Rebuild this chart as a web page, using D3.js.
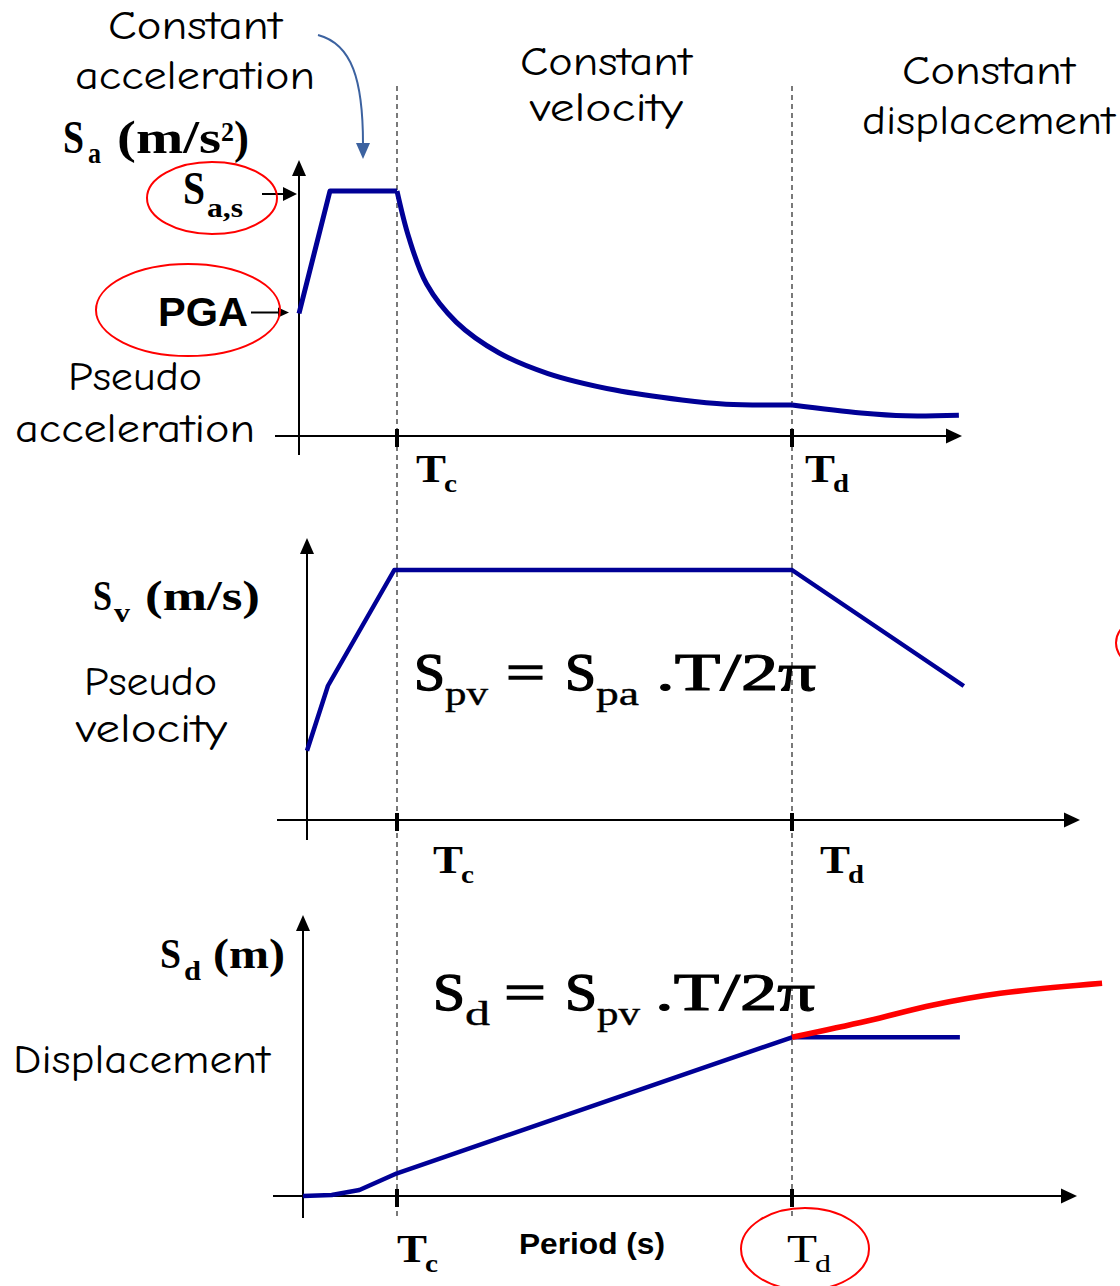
<!DOCTYPE html>
<html><head><meta charset="utf-8">
<script src="https://cdn.jsdelivr.net/npm/d3@7"></script>
<style>html,body{margin:0;padding:0;background:#fff;} svg{display:block;}</style>
</head><body>
<svg id="chart" width="1120" height="1286"></svg>
<script>
// Period in multiples of Tc (Tc = 1, Td = 5)
const cornerNames = ["c", "d"];
const cornerPeriods = [1, 5];

// Pseudo acceleration Sa, in units of PGA
const pga = 1.0;
const saPlateau = 2.0;
const saRampT = [0, 0.316, 1.0];
const saRampV = [1.0, 2.0, 2.0];
const saVelT = [1.0, 1.12, 1.30, 1.60, 2.031, 2.529, 3.208, 3.886, 4.332, 5.0];
const saVelV = [2.0, 1.62, 1.24, 0.93, 0.68, 0.51, 0.375, 0.294, 0.26, 0.253];
const saDispT = [5.0, 5.70, 6.15, 6.69];
const saDispV = [0.253, 0.188, 0.165, 0.17];

// Pseudo velocity Sv, in units of the plateau
const svT = [0, 0.233, 0.97, 5.0, 6.74];
const svV = [0.277, 0.537, 1.0, 1.0, 0.536];

// Spectral displacement Sd
const sdT = [0, 0.305, 0.60, 1.0, 5.0, 6.70];
const sdV = [0, 0.01, 0.06, 0.227, 1.587, 1.587];
const sdOpenT = [5.0, 5.76, 6.43, 7.11, 8.14];
const sdOpenV = [1.587, 1.75, 1.91, 2.027, 2.127];

const zip = (a, b) => a.map((v, i) => [v, b[i]]);

const svg = d3.select("#chart");
const BLUE = "#000096", RED = "#ff0000";
const COMIC = "'Comic Sans MS','Comic Neue','Open Sans',sans-serif";
const SERIF = "'Times New Roman','Liberation Serif',serif";
const SANS = "Arial,'Liberation Sans',sans-serif";

// Three stacked panels sharing Tc / Td positions
const panels = {
  sa: {x0: 299, axisY: 436, unit: 122.5, yTop: 160, yBot: 455, xLeft: 275, xTip: 962},
  sv: {x0: 307, axisY: 820, unit: 250,   yTop: 538, yBot: 840, xLeft: 277, xTip: 1080},
  sd: {x0: 303, axisY: 1196, unit: 100,  yTop: 915, yBot: 1218, xLeft: 273, xTip: 1077}
};
const TC_X = 397, TD_X = 792;
Object.values(panels).forEach(p => {
  p.x = d3.scaleLinear().domain([0, cornerPeriods[0], cornerPeriods[1]]).range([p.x0, TC_X, TD_X]);
  p.y = d3.scaleLinear().domain([0, 1]).range([p.axisY, p.axisY - p.unit]);
});

// dashed guides at Tc and Td through all panels
const gGuide = svg.append("g");
cornerPeriods.forEach(t => {
  const xx = panels.sa.x(t);
  gGuide.append("line").attr("x1", xx).attr("x2", xx).attr("y1", 86).attr("y2", 1217)
    .attr("stroke", "#222").attr("stroke-width", 1.2).attr("stroke-dasharray", "5,4");
});

// axes with arrowheads and corner ticks
function drawAxes(p) {
  const g = svg.append("g");
  g.append("line").attr("x1", p.xLeft).attr("x2", p.xTip - 10).attr("y1", p.axisY).attr("y2", p.axisY)
    .attr("stroke", "#000").attr("stroke-width", 2);
  g.append("path").attr("d", `M${p.xTip},${p.axisY} L${p.xTip - 16},${p.axisY - 7.5} L${p.xTip - 16},${p.axisY + 7.5} Z`).attr("fill", "#000");
  g.append("line").attr("x1", p.x0).attr("x2", p.x0).attr("y1", p.yBot).attr("y2", p.yTop + 10)
    .attr("stroke", "#000").attr("stroke-width", 2);
  g.append("path").attr("d", `M${p.x0},${p.yTop} L${p.x0 - 7},${p.yTop + 16} L${p.x0 + 7},${p.yTop + 16} Z`).attr("fill", "#000");
  cornerPeriods.forEach(t => {
    g.append("rect").attr("x", p.x(t) - 2).attr("y", p.axisY - 7).attr("width", 4).attr("height", 18).attr("fill", "#000");
  });
}
Object.values(panels).forEach(drawAxes);

function drawLine(p, pts, color, width, curve) {
  const line = d3.line().x(d => p.x(d[0])).y(d => p.y(d[1])).curve(curve || d3.curveLinear);
  svg.append("path").attr("d", line(pts)).attr("fill", "none")
    .attr("stroke", color).attr("stroke-width", width).attr("stroke-linejoin", "round");
}

// spectra
const smooth = d3.curveCatmullRom.alpha(0.5);
drawLine(panels.sa, zip(saRampT, saRampV), BLUE, 5);
drawLine(panels.sa, zip(saVelT, saVelV), BLUE, 5, smooth);
drawLine(panels.sa, zip(saDispT, saDispV), BLUE, 5, smooth);
drawLine(panels.sv, zip(svT, svV), BLUE, 4.5);
drawLine(panels.sd, zip(sdT, sdV), BLUE, 4.5);
drawLine(panels.sd, zip(sdOpenT, sdOpenV), RED, 5.5, smooth);

// text helper
function txt(s, x, y, size, opts = {}) {
  const t = svg.append("text").attr("x", x).attr("y", y).text(s)
    .attr("font-family", opts.family || SERIF).attr("font-size", size)
    .attr("font-weight", opts.weight || "normal").attr("fill", opts.fill || "#000");
  if (opts.len) t.attr("textLength", opts.len).attr("lengthAdjust", "spacingAndGlyphs");
  if (opts.stroke) t.attr("stroke", "#000").attr("stroke-width", opts.stroke);
  return t;
}

// region titles
txt("Constant", 108, 39, 40, {family: COMIC, len: 174});
txt("acceleration", 75, 89, 40, {family: COMIC, len: 240});
txt("Constant", 520, 75, 40, {family: COMIC, len: 172});
txt("velocity", 530, 121, 40, {family: COMIC, len: 153});
txt("Constant", 902, 84, 40, {family: COMIC, len: 173});
txt("displacement", 862, 134, 40, {family: COMIC, len: 253});

// arrow into plateau
svg.append("path").attr("d", "M318,35 C352,44 363,80 363,144").attr("fill", "none")
  .attr("stroke", "#3c62a0").attr("stroke-width", 2);
svg.append("path").attr("d", "M356,143 L370,143 L363,159 Z").attr("fill", "#3c62a0");

// Sa panel labels
txt("S", 63, 153, 46, {weight: "bold", len: 21});
txt("a", 88, 163, 30, {weight: "bold", len: 13});
txt("(m/s", 117, 153, 46, {weight: "bold", len: 104});
txt("2", 221, 141, 28, {weight: "bold", len: 13});
txt(")", 234, 153, 46, {weight: "bold", len: 15});

const pa = panels.sa;
const ySas = pa.y(saPlateau), yPga = pa.y(pga);
txt("S", 183, ySas + 13, 46, {weight: "bold", len: 22});
txt("a,s", 207, ySas + 26, 28, {weight: "bold", len: 36});
svg.append("line").attr("x1", 262).attr("x2", 285).attr("y1", ySas + 3).attr("y2", ySas + 3).attr("stroke", "#000").attr("stroke-width", 2);
svg.append("path").attr("d", `M297,${ySas + 3} L283,${ySas - 4} L283,${ySas + 10} Z`).attr("fill", "#000");

txt("PGA", 158, yPga + 12, 40, {family: SANS, weight: "bold", len: 90});
svg.append("line").attr("x1", 251).attr("x2", 280).attr("y1", yPga - 1).attr("y2", yPga - 1).attr("stroke", "#000").attr("stroke-width", 2);
svg.append("path").attr("d", `M289,${yPga - 1} L278,${yPga - 6} L278,${yPga + 4} Z`).attr("fill", "#000");

txt("Pseudo", 68, 390, 40, {family: COMIC, len: 134});
txt("acceleration", 15, 442, 40, {family: COMIC, len: 240});

// Sv panel labels
txt("S", 93, 610, 42, {weight: "bold", len: 19});
txt("v", 114, 622, 28, {weight: "bold", len: 16});
txt("(m/s)", 145, 610, 42, {weight: "bold", len: 115});
txt("Pseudo", 84, 695, 40, {family: COMIC, len: 133});
txt("velocity", 76, 742, 40, {family: COMIC, len: 151});

// Sd panel labels
txt("S", 160, 968, 42, {weight: "bold", len: 21});
txt("d", 184, 980, 28, {weight: "bold", len: 17});
txt("(m)", 213, 968, 42, {weight: "bold", len: 72});
txt("Displacement", 13, 1073, 40, {family: COMIC, len: 257});

// relations between spectra
txt("S", 414, 690, 52, {len: 31, stroke: 1.4});
txt("pv", 445, 705, 34, {len: 43, stroke: 0.4});
txt("=", 506, 690, 52, {len: 39, stroke: 1.4});
txt("S", 565, 690, 52, {len: 31, stroke: 1.4});
txt("pa", 596, 705, 34, {len: 43, stroke: 0.4});
txt(".T/2π", 656, 690, 52, {len: 160, stroke: 1.2});

txt("S", 433, 1010, 52, {len: 32, stroke: 1.4});
txt("d", 465, 1025, 34, {len: 25, stroke: 0.4});
txt("=", 504, 1010, 52, {len: 42, stroke: 1.4});
txt("S", 565, 1010, 52, {len: 32, stroke: 1.4});
txt("pv", 597, 1025, 34, {len: 43, stroke: 0.4});
txt(".T/2π", 655, 1010, 52, {len: 160, stroke: 1.2});

// corner period labels
const cornerLabelOffsets = [{p: panels.sa, dx: [19, 13], base: 46, w: "bold"},
                            {p: panels.sv, dx: [36, 28], base: 53, w: "bold"},
                            {p: panels.sd, dx: [0, -5], base: 66, w: "bold"}];
cornerLabelOffsets.forEach((o, i) => {
  cornerPeriods.forEach((t, j) => {
    const xx = o.p.x(t) + o.dx[j];
    const w = (i === 2 && j === 1) ? "normal" : o.w;
    txt("T", xx, o.p.axisY + o.base, 41, {weight: w, len: 30});
    txt(cornerNames[j], xx + 28, o.p.axisY + o.base + 10, 26, {weight: w, len: j === 0 ? 13 : 16});
  });
});

txt("Period (s)", 519, 1254, 30, {family: SANS, weight: "bold", len: 146});

// highlight ellipses
const ell = [[212, 198, 65, 36], [188, 310, 92, 46], [805, 1249, 64, 41], [1180, 643, 64, 35]];
ell.forEach(e => svg.append("ellipse").attr("cx", e[0]).attr("cy", e[1]).attr("rx", e[2]).attr("ry", e[3])
  .attr("fill", "none").attr("stroke", RED).attr("stroke-width", 2));
</script>
</body></html>
